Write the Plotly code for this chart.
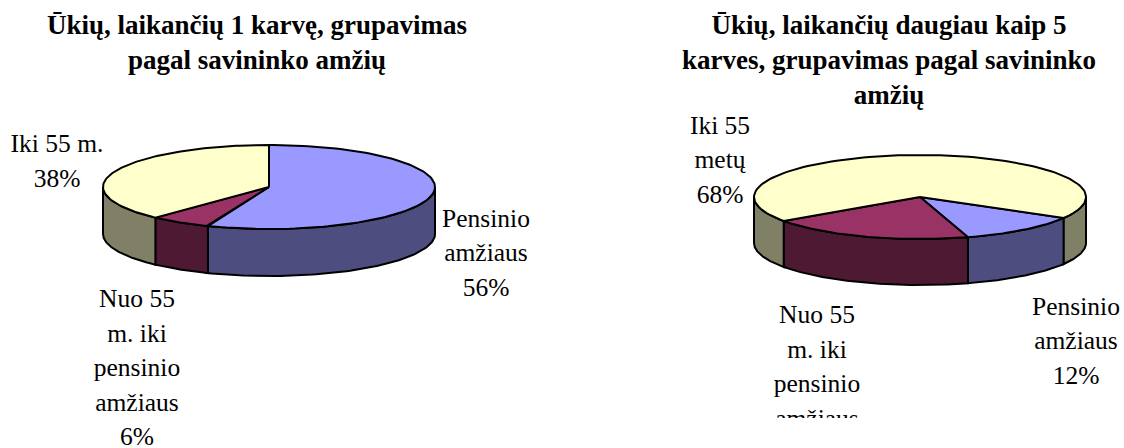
import numpy as np
import plotly.graph_objects as go

# ---------------- data ----------------
categories = ["Pensinio amžiaus", "Nuo 55 m. iki pensinio amžiaus", "Iki 55 m."]
left_values = [56, 6, 38]
right_values = [12, 20, 68]
left_labels = ["Pensinio<br>amžiaus<br>56%",
               "Nuo 55<br>m. iki<br>pensinio<br>amžiaus<br>6%",
               "Iki 55 m.<br>38%"]
right_labels = ["Pensinio<br>amžiaus<br>12%",
                "Nuo 55<br>m. iki<br>pensinio<br>amžiaus<br>20%",
                "Iki 55<br>metų<br>68%"]
left_title = "Ūkių, laikančių 1 karvę, grupavimas<br>pagal savininko amžių"
right_title = "Ūkių, laikančių daugiau kaip 5<br>karves, grupavimas pagal savininko<br>amžių"

# ---------------- style / layout ----------------
TOP_COLORS = ["#9999FF", "#993366", "#FFFFCC"]
SIDE_COLORS = ["#4D4D80", "#4D1933", "#808066"]
FONT = "'Times New Roman', 'Liberation Serif', Times, serif"
W, H = 1124, 448
LINE_H = 34.5  # label line spacing (px)

PIES = [
    dict(values=left_values, labels=left_labels, title=left_title,
         cx=269, cy=187, rx=166, ry=42, depth=47, start=0,
         label_pos=[(486, 255), (137, 370), (57, 163)],
         title_x=257, xa="x", ya="y"),
    dict(values=right_values, labels=right_labels, title=right_title,
         cx=920, cy=197, rx=166, ry=42, depth=46, start=120,
         label_pos=[(1076, 343), (817, 386), (720, 162)],
         title_x=889, xa="x2", ya="y2"),
]


def ell(p, th, dy=0.0):
    t = np.radians(th)
    return p["cx"] + p["rx"] * np.sin(t), p["cy"] - p["ry"] * np.cos(t) + dy


fig = go.Figure()

for p in PIES:
    vals = np.array(p["values"], dtype=float)
    angles = np.concatenate([[0], np.cumsum(vals / vals.sum() * 360.0)]) + p["start"]
    # side walls (front half only: 90..270 deg clockwise from top)
    for i in range(len(vals)):
        t0, t1 = angles[i], angles[i + 1]
        for k in (-1, 0, 1, 2):
            s0 = max(t0, 90 + 360 * k)
            s1 = min(t1, 270 + 360 * k)
            if s1 <= s0:
                continue
            th = np.linspace(s0, s1, 80)
            xt, yt = ell(p, th)
            xb, yb = ell(p, th[::-1], p["depth"])
            xs = np.concatenate([xt, xb, xt[:1]])
            ys = np.concatenate([yt, yb, yt[:1]])
            fig.add_trace(go.Scatter(x=xs, y=ys, mode="lines", fill="toself",
                                     fillcolor=SIDE_COLORS[i],
                                     line=dict(color="black", width=2),
                                     xaxis=p["xa"], yaxis=p["ya"],
                                     hoverinfo="skip", showlegend=False))
    # top faces
    for i in range(len(vals)):
        th = np.linspace(angles[i], angles[i + 1], 120)
        xa_, ya_ = ell(p, th)
        xs = np.concatenate([[p["cx"]], xa_, [p["cx"]]])
        ys = np.concatenate([[p["cy"]], ya_, [p["cy"]]])
        fig.add_trace(go.Scatter(x=xs, y=ys, mode="lines", fill="toself",
                                 fillcolor=TOP_COLORS[i],
                                 line=dict(color="black", width=2),
                                 xaxis=p["xa"], yaxis=p["ya"],
                                 name=categories[i],
                                 hoverinfo="name", showlegend=False))
    # data labels (one text item per line for Excel-like line spacing)
    lx, ly, lt = [], [], []
    for (px, py), lab in zip(p["label_pos"], p["labels"]):
        lines = lab.split("<br>")
        n = len(lines)
        for j, s in enumerate(lines):
            lx.append(px)
            ly.append(py + (j - (n - 1) / 2) * LINE_H)
            lt.append(s)
    fig.add_trace(go.Scatter(x=lx, y=ly, mode="text", text=lt,
                             textposition="middle center",
                             textfont=dict(family=FONT, size=25.5, color="black"),
                             cliponaxis=True,
                             xaxis=p["xa"], yaxis=p["ya"],
                             hoverinfo="skip", showlegend=False))
    fig.add_annotation(x=p["title_x"] / W, y=1 - 8 / H, xref="paper", yref="paper",
                       xanchor="center", yanchor="top", showarrow=False,
                       text="<b>" + p["title"] + "</b>",
                       font=dict(family=FONT, size=27, color="black"))

ax = dict(visible=False, showgrid=False, zeroline=False, fixedrange=True)
fig.update_layout(
    width=W, height=H,
    margin=dict(l=0, r=0, t=0, b=0),
    paper_bgcolor="white", plot_bgcolor="rgba(0,0,0,0)",
    xaxis=dict(ax, domain=[0, 0.5], range=[0, W / 2]),
    yaxis=dict(ax, domain=[0, 1], range=[H, 0]),
    xaxis2=dict(ax, domain=[0.5, 1], range=[W / 2, W], anchor="y2"),
    yaxis2=dict(ax, domain=[30 / H, 1], range=[H - 30, 0], anchor="x2"),
)

fig.write_html("out.html", config={"displayModeBar": False},
               post_script="document.body.style.margin='0';document.body.style.overflow='hidden';")
